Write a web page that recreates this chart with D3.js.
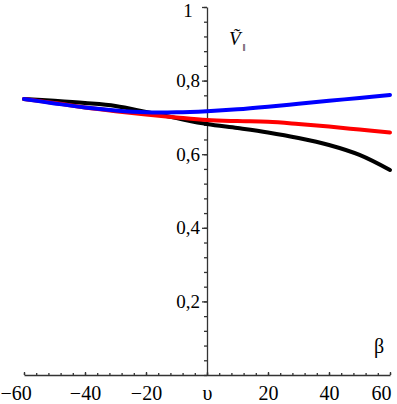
<!DOCTYPE html>
<html lang="en">
<head>
<meta charset="UTF-8">
<title>V parallel vs beta</title>
<script src="https://d3js.org/d3.v7.min.js"></script>
<style>
  html, body { margin:0; padding:0; background:#fff; overflow:hidden; }
  svg, svg text { font-family:"Liberation Serif","Times New Roman",serif; }
  svg { display:block; }
  .axis path, .axis line { stroke:#333; stroke-width:1.3; }
  .axis text { fill:#000; }
  .curve { fill:none; stroke-width:4; stroke-linejoin:round; stroke-linecap:round; }
</style>
</head>
<body>
<div id="chart"></div>
<script>
const betas=[-60,-50,-40,-30,-20,-10,0,10,20,30,40,50,60];
const blackVals=[0.750,0.745,0.739,0.731,0.715,0.698,0.682,0.671,0.659,0.644,0.625,0.598,0.557];
const redVals=[0.750,0.739,0.727,0.717,0.708,0.700,0.693,0.690,0.688,0.682,0.675,0.667,0.659];
const blueVals=[0.750,0.738,0.727,0.719,0.714,0.714,0.717,0.722,0.729,0.737,0.745,0.753,0.761];
const xTicks=[-60,-40,-20,0,20,40,60];
const yTicks=[0.2,0.4,0.6,0.8,1];

const width=397,height=404;
const svg=d3.select("#chart").append("svg").attr("width",width).attr("height",height);
const x=d3.scaleLinear().domain([-60,60]).range([24,390]);
const y=d3.scaleLinear().domain([0,1]).range([375,7]);

// minor ticks
const xMinor=d3.range(-60,60.001,4);
const yMinor=d3.range(0,1.0001,0.04);

svg.append("g").attr("class","axis").attr("transform","translate(0,"+y(0)+")")
  .call(d3.axisBottom(x).tickValues(xMinor).tickSizeInner(-2).tickSizeOuter(0).tickFormat(""));
const xAxisG=svg.append("g").attr("class","axis").attr("transform","translate(0,"+y(0)+")")
  .call(d3.axisBottom(x).tickValues(xTicks).tickSizeInner(-3).tickSizeOuter(0)
    .tickFormat(d=>d===0?"υ":(d<0?"\u2212"+Math.abs(d):d)));
xAxisG.select(".domain").remove();
xAxisG.selectAll("text").attr("font-size",20).attr("y",25).attr("dy",0)
  .attr("text-anchor",(d,i)=>i===0?"start":(i===xTicks.length-1?"end":"middle"))
  .attr("x",(d,i)=>i===0?-x(d):(i===xTicks.length-1?391-x(d):0));

svg.append("g").attr("class","axis").attr("transform","translate("+x(0)+",0)")
  .call(d3.axisLeft(y).tickValues(yMinor).tickSizeInner(3).tickSizeOuter(0).tickFormat(""));
const yAxisG=svg.append("g").attr("class","axis").attr("transform","translate("+x(0)+",0)")
  .call(d3.axisLeft(y).tickValues(yTicks).tickSizeInner(5).tickSizeOuter(0)
    .tickFormat(d=>d===1?"1":d3.format(".1f")(d).replace(".",",")));
yAxisG.select(".domain").remove();
yAxisG.selectAll("text").attr("font-size",19).attr("text-anchor","middle").attr("x",-19)
  .attr("dy",d=>d===1?"0.5em":"0.32em");

const line=d3.line().x((d,i)=>x(betas[i])).y(d=>y(d)).curve(d3.curveCatmullRom);
[[blackVals,"#000"],[redVals,"#ff0000"],[blueVals,"#0000ff"]].forEach(([vals,c])=>{
  svg.append("path").attr("class","curve").attr("d",line(vals)).attr("stroke",c);
});

svg.append("text").attr("x",379).attr("y",353).attr("font-size",20)
  .attr("text-anchor","middle").text("β");
const vl=svg.append("text").attr("x",229).attr("y",45).attr("font-size",19);
vl.append("tspan").attr("font-style","italic").text("Ṽ");
vl.append("tspan").attr("font-size",11).attr("dy",6).attr("dx",2).text("‖");
</script>
</body>
</html>
